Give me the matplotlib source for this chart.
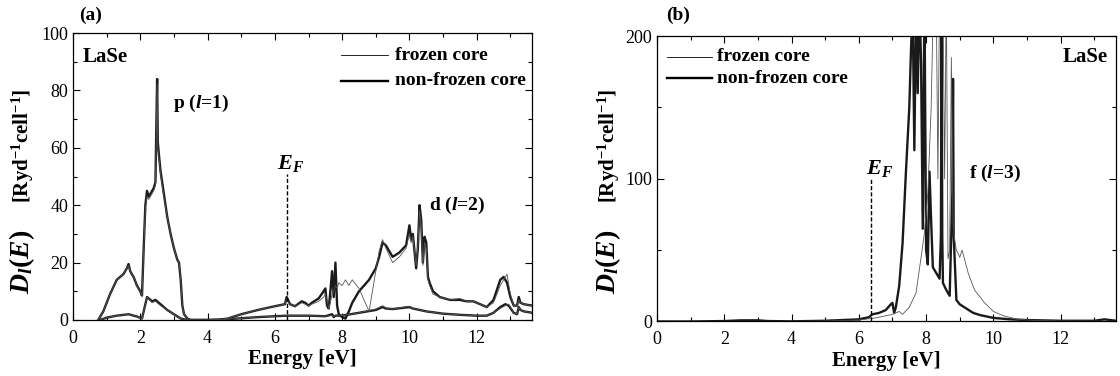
import matplotlib
matplotlib.use("Agg")
import matplotlib.pyplot as plt
from matplotlib.ticker import MultipleLocator

plt.rcParams['font.family'] = ['Liberation Serif', 'DejaVu Serif']
plt.rcParams['mathtext.fontset'] = 'custom'
plt.rcParams['mathtext.rm'] = 'Liberation Serif'
plt.rcParams['mathtext.it'] = 'Liberation Serif:italic'
plt.rcParams['mathtext.bf'] = 'Liberation Serif:bold'
plt.rcParams['mathtext.bfit'] = 'Liberation Serif:italic:bold'

# ---------------- panel (a): p and d partial DOS ----------------
p_E = [0.75, 0.9, 1.1, 1.3, 1.4, 1.5, 1.6, 1.65, 1.7, 1.8,
       1.9, 2.0, 2.05, 2.1, 2.15, 2.2, 2.25, 2.3, 2.4, 2.45,
       2.48, 2.5, 2.52, 2.55, 2.6, 2.7, 2.8, 2.9, 3.0, 3.1,
       3.15, 3.2, 3.25, 3.3, 3.4, 3.5, 4.0, 4.5, 5.0, 5.5,
       6.0, 6.35, 6.5, 7.0, 7.5, 7.7, 7.75, 7.8, 8.0, 8.5,
       9.0, 9.2, 9.3, 9.5, 10.0, 10.1, 10.3, 10.5, 11.0, 11.5,
       12.0, 12.3, 12.5, 12.7, 12.85, 12.95, 13.1, 13.2, 13.25, 13.3,
       13.4, 13.65]
p_nonfrozen = [0, 3, 9, 14, 15, 16, 18, 19.5, 17, 15,
               12, 10, 8.5, 25, 40, 45, 43, 44, 46, 48,
               70, 84, 62, 58, 52, 44, 36, 30, 25, 21,
               20, 14, 5, 2, 0.5, 0, 0, 0.2, 0.6, 1.0,
               1.3, 1.5, 1.5, 1.5, 1.3, 2.0, 1.0, 1.5, 1.5, 2.5,
               3.5, 4.5, 4.0, 3.8, 4.5, 4.0, 3.5, 3.0, 2.2, 1.8,
               1.5, 1.5, 2.5, 4.5, 5.5, 5.0, 2.5, 2.0, 4.5, 3.5,
               3.0, 2.5]
p_frozen = [0, 3, 9, 14, 15, 16, 18, 19, 17, 15,
            12, 10, 8.5, 24, 39, 43, 42, 43, 45, 47,
            68, 82, 60, 57, 51, 43, 36, 30, 25, 21,
            20, 14, 5, 2, 0.5, 0, 0, 0.2, 0.6, 1.0,
            1.3, 1.5, 1.5, 1.5, 1.3, 1.5, 1.2, 1.5, 1.5, 2.5,
            3.8, 5.0, 4.2, 3.8, 4.8, 4.0, 3.5, 3.0, 2.2, 1.8,
            1.5, 1.5, 2.5, 4.0, 5.0, 5.5, 2.5, 2.0, 4.5, 3.5,
            3.0, 2.5]

d_E = [0.8, 1.0, 1.3, 1.65, 1.9, 2.05, 2.1, 2.2, 2.35, 2.45,
       2.5, 2.6, 2.8, 3.0, 3.2, 3.4, 3.6, 4.3, 4.6, 5.0,
       5.5, 6.0, 6.3, 6.35, 6.45, 6.6, 6.8, 6.9, 7.0, 7.1,
       7.3, 7.45, 7.5, 7.55, 7.6, 7.65, 7.7, 7.75, 7.8, 7.85,
       7.9, 8.0, 8.1, 8.2, 8.3, 8.5, 8.8, 9.0, 9.1, 9.2,
       9.3, 9.5, 9.7, 9.9, 10.0, 10.05, 10.1, 10.2, 10.25, 10.3,
       10.35, 10.4, 10.45, 10.5, 10.55, 10.6, 10.7, 10.9, 11.2, 11.5,
       11.7, 11.9, 12.0, 12.3, 12.5, 12.7, 12.8, 12.9, 13.0, 13.1,
       13.2, 13.25, 13.3, 13.4, 13.65]
d_nonfrozen = [0, 0.8, 1.5, 2.0, 1.2, 0.5, 3, 8, 6.5, 7,
               6.5, 5.5, 3.5, 2, 0.5, 0, 0, 0, 0.5, 2,
               3.5, 4.8, 5.5, 8, 5.5, 4.8, 6.5, 6, 5, 6,
               7.5, 10, 11, 5, 4, 10, 17, 8, 20, 5,
               2, 1, 0.5, 3, 6, 10, 14, 18, 22, 27,
               26, 22, 23.5, 26, 33, 28, 30, 18, 25, 40,
               35, 20, 29, 27, 15, 13, 10, 8, 7, 7,
               6.5, 6.5, 6, 4.5, 7, 14, 15, 13, 8, 5,
               5, 8, 6, 5.5, 5]
d_frozen = [0, 0.8, 1.5, 2.0, 1.2, 0.5, 3, 8, 6, 6.5,
            6, 5, 3.5, 2, 0.5, 0, 0, 0, 0.5, 2,
            3.5, 4.8, 5.5, 7, 5.5, 4.8, 6, 5.5, 5, 5.5,
            6.5, 8, 9, 7, 4, 6, 9, 10, 12, 11,
            13, 12, 14, 12, 14, 11, 3, 17, 24, 28,
            25, 20, 22, 25, 30, 27, 29, 19, 26, 38,
            33, 19, 27, 25, 14, 12, 9, 8, 7, 7.5,
            6.5, 6.5, 6, 4.5, 6, 12, 14, 16, 9, 5,
            5, 7, 6, 5.5, 5]

# ---------------- panel (b): f partial DOS ----------------
f_E_nf = [0.0, 1.0, 2.0, 2.5, 3.0, 3.3, 4.0, 5.0, 5.5, 6.0,
          6.3, 6.4, 6.6, 6.8, 6.95, 7.0, 7.05, 7.1, 7.2, 7.3,
          7.4, 7.5, 7.55, 7.6, 7.65, 7.7, 7.75, 7.8, 7.85, 7.9,
          7.95, 8.0, 8.05, 8.1, 8.15, 8.2, 8.3, 8.4, 8.44, 8.46,
          8.48, 8.5, 8.6, 8.7, 8.78, 8.8, 8.82, 8.9, 9.0, 9.2,
          9.4, 9.6, 10.0, 10.5, 11.0, 12.0, 13.0, 13.3, 13.65]
f_nonfrozen = [0, 0, 0.3, 0.8, 0.8, 0.3, 0.1, 0.5, 1.0, 1.5,
               3, 5, 6, 8, 12, 13, 6, 10, 25, 55,
               105, 150, 190, 220, 120, 220, 160, 230, 180, 65,
               230, 50, 40, 105, 70, 38, 34, 30, 60, 220,
               60, 27, 22, 18, 90, 170, 60, 15, 12, 9,
               6, 4.5, 2.5, 1.5, 1, 0.5, 0.5, 1.5, 0.5]
f_E_fz = [0, 2, 4, 5, 6, 6.5, 7.0, 7.2, 7.3, 7.5,
          7.7, 7.85, 7.95, 8.05, 8.15, 8.22, 8.3, 8.35, 8.4, 8.5,
          8.55, 8.6, 8.65, 8.7, 8.75, 8.8, 8.85, 8.9, 9.0, 9.07,
          9.25, 9.44, 9.74, 10.0, 10.3, 10.7, 11.2, 12, 13.65]
f_frozen = [0, 0, 0, 0.3, 1, 2.5, 5, 7, 5, 10,
            20, 45, 62, 90, 150, 230, 230, 100, 230, 230,
            100, 230, 44, 50, 185, 70, 57, 50, 45, 50,
            34, 22, 13, 7, 4, 1.6, 0.8, 0.3, 0.1]

E_F = 6.35
legend_labels = ['frozen core', 'non-frozen core']

TH, TN = 1.7, 0.6
FS = 13
XMAX = 13.65

fig = plt.figure(figsize=(11.2, 3.76), dpi=100)
axa = fig.add_axes([0.0652, 0.149, 0.410, 0.763])
axb = fig.add_axes([0.5866, 0.145, 0.410, 0.759])

def style(ax, ymax, ymaj, ymin):
    ax.set_xlim(0, XMAX)
    ax.set_ylim(0, ymax)
    ax.xaxis.set_major_locator(MultipleLocator(2))
    ax.xaxis.set_minor_locator(MultipleLocator(1))
    ax.yaxis.set_major_locator(MultipleLocator(ymaj))
    ax.yaxis.set_minor_locator(MultipleLocator(ymin))
    ax.tick_params(which='both', direction='in', top=True, right=True,
                   labelsize=FS, width=0.8)
    ax.tick_params(which='major', length=5)
    ax.tick_params(which='minor', length=3)
    ax.tick_params(axis='x', which='major', pad=7)
    for s in ax.spines.values():
        s.set_linewidth(0.9)
    ax.set_xlabel('Energy [eV]', fontsize=FS + 2, fontweight='bold', labelpad=2)

# panel (a)
axa.plot(p_E, p_nonfrozen, color='#1a1a1a', lw=TH)
axa.plot(d_E, d_nonfrozen, color='#1a1a1a', lw=TH)
axa.plot(p_E, p_frozen, color='#555555', lw=TN)
axa.plot(d_E, d_frozen, color='#555555', lw=TN)
style(axa, 100, 20, 10)
axa.plot([E_F, E_F], [0, 51], color='black', lw=1.0, ls=(0, (3, 1.5)))
axa.text(E_F + 0.12, 54.5, r'$\mathbfit{E_F}$', fontsize=FS + 3, ha='center', va='center')
axa.text(0.3, 91.5, 'LaSe', fontsize=FS + 2, fontweight='bold', va='center')
axa.text(2.98, 75.5, r'p ($\mathbfit{l}$=1)', fontsize=FS + 1, fontweight='bold', va='center')
axa.text(10.57, 40, r'd ($\mathbfit{l}$=2)', fontsize=FS + 1, fontweight='bold', va='center')

# panel (b)
axb.plot(f_E_nf, f_nonfrozen, color='#1a1a1a', lw=TH)
axb.plot(f_E_fz, f_frozen, color='#555555', lw=TN)
style(axb, 200, 100, 50)
axb.plot([E_F, E_F], [0, 100], color='black', lw=1.0, ls=(0, (3, 1.5)))
axb.text(E_F + 0.27, 107.5, r'$\mathbfit{E_F}$', fontsize=FS + 3, ha='center', va='center')
axb.text(0.982, 0.927, 'LaSe', transform=axb.transAxes, fontsize=FS + 2,
         fontweight='bold', ha='right', va='center')
axb.text(9.26, 104, r'f ($\mathbfit{l}$=3)', fontsize=FS + 1, fontweight='bold', va='center')

# legends (drawn manually in axes fraction)
def legend(ax, x0, x1, xt, ys):
    for y, lw, lab in zip(ys, [TN, TH], legend_labels):
        ax.plot([x0, x1], [y, y], transform=ax.transAxes, color='black', lw=lw)
        ax.text(xt, y, lab, transform=ax.transAxes, fontsize=FS + 1, fontweight='bold',
                va='center', ha='left')

legend(axa, 0.584, 0.687, 0.701, [0.923, 0.833])
legend(axb, 0.022, 0.119, 0.131, [0.927, 0.853])

# y labels: large D_l(E) plus unit text
for xf in (0.0196, 0.543):
    fig.text(xf, 1 - 262 / 376, r'$\mathbfit{D_l}\mathbf{(}\mathbfit{E}\mathbf{)}$',
             rotation=90, fontsize=20, ha='center', va='center')
    fig.text(xf + 0.001, 1 - 146 / 376, r'[Ryd$^{\mathbf{-1}}$cell$^{\mathbf{-1}}$]',
             rotation=90, fontsize=FS + 2, fontweight='bold', ha='center', va='center')

fig.text(0.081, 0.96, '(a)', fontsize=FS + 1, fontweight='bold', ha='center', va='center')
fig.text(0.605, 0.96, '(b)', fontsize=FS + 1, fontweight='bold', ha='center', va='center')

fig.savefig('out.png', dpi=100)
